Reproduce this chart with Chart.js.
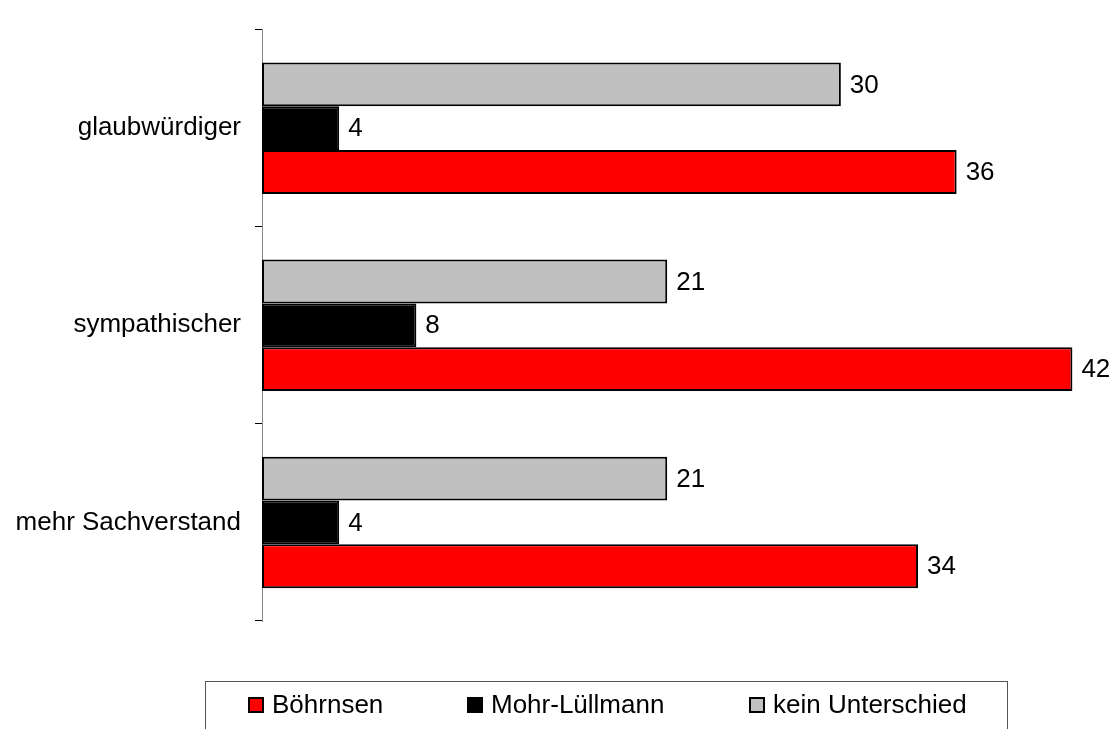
<!DOCTYPE html>
<html>
<head>
<meta charset="utf-8">
<script src="https://cdn.jsdelivr.net/npm/chart.js@4"></script>
<style>
html,body{margin:0;padding:0;background:#fff;}
#wrap{width:1115px;height:729px;}
</style>
</head>
<body>
<div id="wrap"><canvas id="myChart" width="1115" height="729"></canvas></div>
<script>
'use strict';
let categories=['glaubwürdiger','sympathischer','mehr Sachverstand'];
let keinUnterschied=[30,21,21];
let mohrLuellmann=[4,8,4];
let boehrnsen=[36,42,34];
let seriesNames=['kein Unterschied','Mohr-Lüllmann','Böhrnsen'];
let seriesColors=['#C0C0C0','#000000','#FF0000'];

let fontName="'Liberation Sans', Arial, sans-serif";

// numbers at the end of each bar
let valueLabels={
  id:'valueLabels',
  afterDatasetsDraw(chart){
    let ctx=chart.ctx;
    ctx.save();
    ctx.font='26px '+fontName;
    ctx.fillStyle='#000';
    ctx.textBaseline='middle';
    ctx.textAlign='left';
    chart.data.datasets.forEach(function(ds,i){
      let meta=chart.getDatasetMeta(i);
      meta.data.forEach(function(bar,j){
        ctx.fillText(ds.data[j],bar.x+9,bar.y+1);
      });
    });
    ctx.restore();
  }
};

// legend in a box below the plot
let boxLegend={
  id:'boxLegend',
  afterDraw(chart){
    let ctx=chart.ctx;
    ctx.save();
    ctx.strokeStyle='#555';
    ctx.lineWidth=1;
    ctx.strokeRect(205.5,681.5,802,60);
    let order=[2,1,0];
    let xs=[248,467,749];
    ctx.font='26px '+fontName;
    ctx.textBaseline='middle';
    ctx.textAlign='left';
    for(let k=0;k<order.length;k++)
    {
      let i=order[k];
      ctx.fillStyle=seriesColors[i];
      ctx.fillRect(xs[k],697,16,16);
      ctx.strokeStyle='#000';
      ctx.lineWidth=2;
      ctx.strokeRect(xs[k]+1,698,14,14);
      ctx.fillStyle='#000';
      ctx.fillText(seriesNames[i],xs[k]+24,706);
    }
    ctx.restore();
  }
};

let ctx=document.getElementById('myChart').getContext('2d');
let myChart=new Chart(ctx,{
  type:'bar',
  data:{
    labels:categories,
    datasets:[
      {label:seriesNames[0],data:keinUnterschied,backgroundColor:seriesColors[0],borderColor:'#000',borderWidth:2,borderSkipped:false},
      {label:seriesNames[1],data:mohrLuellmann,backgroundColor:seriesColors[1],borderColor:'#000',borderWidth:2,borderSkipped:false},
      {label:seriesNames[2],data:boehrnsen,backgroundColor:seriesColors[2],borderColor:'#000',borderWidth:2,borderSkipped:false}
    ]
  },
  options:{
    indexAxis:'y',
    responsive:false,
    animation:false,
    datasets:{bar:{categoryPercentage:0.667,barPercentage:1}},
    layout:{padding:{left:0,right:4,top:9,bottom:108}},
    plugins:{legend:{display:false},tooltip:{enabled:false}},
    scales:{
      x:{display:false,min:0,max:44},
      y:{
        afterFit:function(scale){scale.width=262;},
        grid:{display:true,drawOnChartArea:false,tickLength:7,color:'#000',offset:true},
        border:{display:true,color:'#888',width:1},
        ticks:{color:'#000',padding:14,font:{family:fontName,size:26}}
      }
    }
  },
  plugins:[valueLabels,boxLegend]
});
</script>
</body>
</html>
